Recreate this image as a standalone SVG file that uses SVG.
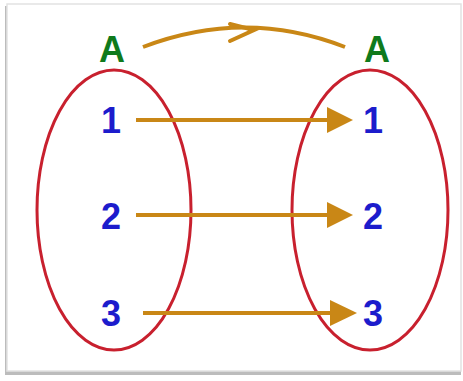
<svg xmlns="http://www.w3.org/2000/svg" width="463" height="381" viewBox="0 0 463 381">
<defs>
<style>
.lbl{font-family:"Liberation Sans",Arial,sans-serif;font-weight:bold;font-size:36px;text-anchor:middle}
.set{fill:#0f7a1c}
.el{fill:#1c1ccc}
.ell{fill:none;stroke:#c8202e;stroke-width:3}
.ar{stroke:#c98716;stroke-width:4;fill:none}
</style>
<marker id="head" markerWidth="8" markerHeight="8" refX="7" refY="4" orient="auto" markerUnits="userSpaceOnUse" viewBox="0 0 8 8">
<path d="M0,0 L8,4 L0,8 Z" fill="#c98716"/>
</marker>
</defs>
<rect x="0" y="0" width="463" height="381" fill="#ffffff"/>
<rect x="5" y="6" width="456" height="369" fill="#bcbcbc"/>
<rect x="7" y="4" width="454" height="367" fill="#ffffff" stroke="#e2e2e2" stroke-width="1.5"/>
<g id="setA-left">
<ellipse class="ell" cx="114" cy="210" rx="77" ry="140"/>
<text class="lbl set" x="112" y="62">A</text>
</g>
<g id="setA-right">
<ellipse class="ell" cx="370" cy="210" rx="78" ry="140"/>
<text class="lbl set" x="377" y="62">A</text>
</g>
<g id="l1"><text class="lbl el" x="111" y="133">1</text></g>
<g id="l2"><text class="lbl el" x="111" y="229">2</text></g>
<g id="l3"><text class="lbl el" x="111" y="326">3</text></g>
<g id="r1"><text class="lbl el" x="373" y="133">1</text></g>
<g id="r2"><text class="lbl el" x="373" y="229">2</text></g>
<g id="r3"><text class="lbl el" x="373" y="326">3</text></g>
<g id="connectors">
<path class="ar" d="M136,120 H330"/>
<path d="M327,107 L353,120 L327,133 Z" fill="#c98716"/>
<path class="ar" d="M136,215 H330"/>
<path d="M327,202 L353,215 L327,228 Z" fill="#c98716"/>
<path class="ar" d="M143,313 H332"/>
<path d="M330,300 L357,313 L330,326 Z" fill="#c98716"/>
<path class="ar" stroke-width="3" d="M143,47 Q245,8 345,47"/>
<path class="ar" stroke-width="3" stroke-linecap="round" d="M230,24 L254,30 L230,41"/>
</g>
</svg>
